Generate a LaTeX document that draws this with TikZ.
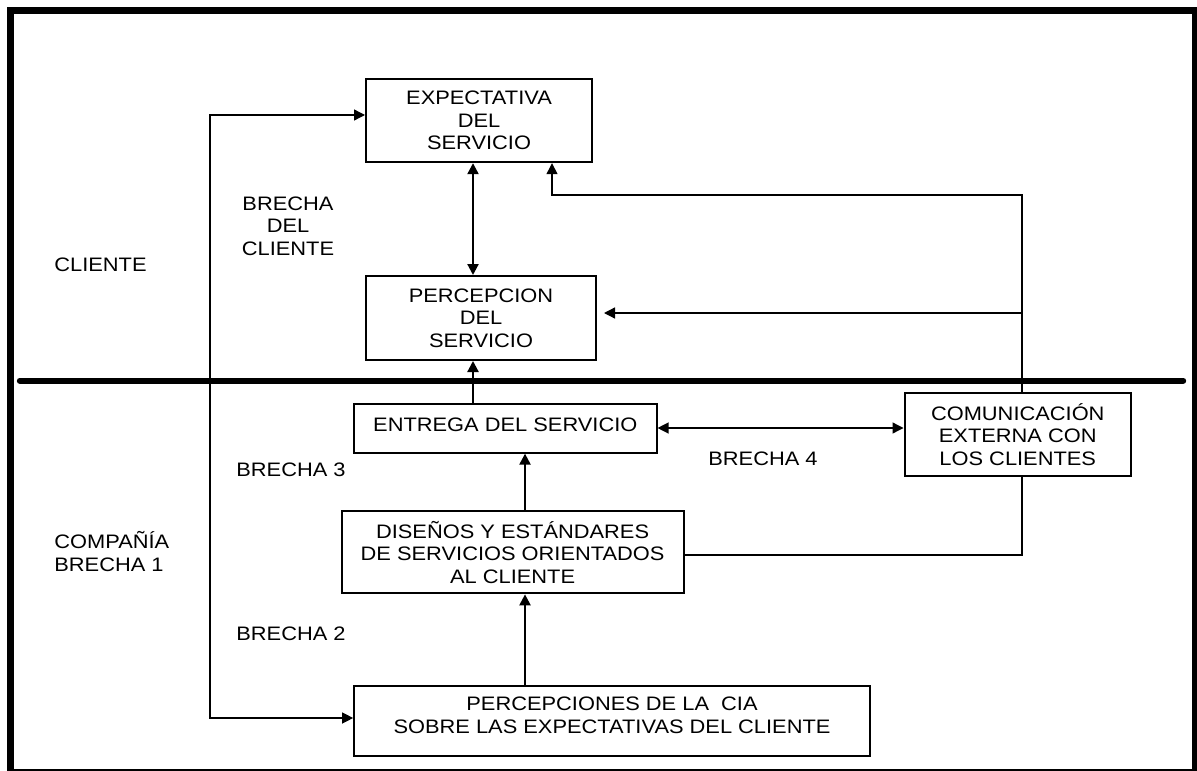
\documentclass[tikz,border=0pt]{standalone}
\usepackage{fontspec}
\setmainfont{Liberation Sans}[FakeStretch=1.12]
\usetikzlibrary{arrows.meta,backgrounds}
\newcommand\dtxt{\fontsize{9.75pt}{11.25pt}\selectfont}
\begin{document}
\begin{tikzpicture}[x=0.5pt,y=-0.5pt,
  box/.style={draw, line width=1pt, fill=white, align=center, inner sep=0pt, font=\dtxt},
  lbl/.style={align=center, inner sep=0pt, font=\dtxt},
  thick1/.style={line width=1.1pt},
  thin1/.style={line width=0.65pt},
  arr/.style={-{Triangle[length=5.5pt,width=5.5pt]}},
  darr/.style={{Triangle[length=5.5pt,width=5.5pt]}-{Triangle[length=5.5pt,width=5.5pt]}}]
\useasboundingbox (0,0) rectangle (1197,770);
\clip (0,0) rectangle (1197,770);

% caption (cut off at the top in the reference)
\node[anchor=base west, inner sep=0pt, font=\fontsize{14.5pt}{16pt}\selectfont] (cap) at (19,-11.5)
  {Figura 3. Modelo de brechas en la calidad de la prestación del servicio};

% boxes
\node[box, minimum width=113pt, minimum height=41.5pt] (exp) at (479,120.7)
  {EXPECTATIVA\\DEL\\SERVICIO};
\node[box, minimum width=115pt, minimum height=42pt] (per) at (481,318)
  {PERCEPCION\\DEL\\SERVICIO};
\node[box, minimum width=151.25pt, minimum height=24.35pt] (ent) at (505.3,428.3)
  {ENTREGA DEL SERVICIO\rule[-4pt]{0pt}{4pt}};
\node[box, minimum width=113.25pt, minimum height=41.5pt] (com) at (1017.75,434.5)
  {COMUNICACIÓN\\EXTERNA CON\\LOS CLIENTES};
\node[box, minimum width=171pt, minimum height=41.15pt] (dis) at (512.6,552.2)
  {DISEÑOS Y ESTÁNDARES\\DE SERVICIOS ORIENTADOS\\AL CLIENTE};
\node[box, minimum width=257.85pt, minimum height=35pt] (pcia) at (612,721)
  {PERCEPCIONES DE LA\ \ CIA\\SOBRE LAS EXPECTATIVAS DEL CLIENTE\rule[-6pt]{0pt}{6pt}};

% labels
\node[lbl, anchor=west] (cli) at (54,265) {CLIENTE};
\node[lbl] (bcli) at (288,226) {BRECHA\\DEL\\CLIENTE};
\node[lbl] (b3) at (291,470) {BRECHA 3};
\node[lbl] (b4) at (763,459) {BRECHA 4};
\node[lbl] (b2) at (291,634) {BRECHA 2};
\node[lbl, anchor=west, align=left] (comp) at (54,551.5) {COMPAÑÍA\\BRECHA 1};

% helper coordinates
\coordinate (cx1) at (473,0);
\coordinate (cx2) at (525,0);
\coordinate (cy) at (0,428);
\coordinate (loopT) at (210,115);
\coordinate (loopB) at (210,718);
\coordinate (fbR) at (1022,555);
\coordinate (fbT) at (1022,195);
\coordinate (fbL) at (552,195);
\coordinate (fbM) at (1022,313);
\coordinate (sepL) at (20,380.7);
\coordinate (sepR) at (1183,380.7);

\begin{pgfonlayer}{background}
\draw[thin1, darr] (exp.west |- loopT) -- (loopT) -- (loopB) -- (pcia.west |- loopB);
\draw[thin1, arr] (dis.east |- fbR) -- (fbR) -- (fbT) -- (fbL) -- (exp.south -| fbL);
\draw[thin1, arr, shorten >=3.5pt] (fbM) -- (per.east |- fbM);
\end{pgfonlayer}

\draw[thick1, darr] (exp.south -| cx1) -- (per.north -| cx1);
\draw[thick1, arr] (ent.north -| cx1) -- (per.south -| cx1);
\draw[thick1, arr] (dis.north -| cx2) -- (ent.south -| cx2);
\draw[thick1, arr] (pcia.north -| cx2) -- (dis.south -| cx2);
\draw[thin1, darr] (ent.east |- cy) -- (com.west |- cy);

% separator and frame
\draw[line width=3.2pt, line cap=round] (sepL) -- (sepR);
\draw[line width=3.6pt] (10.5,10.5) rectangle (1195.5,772.5);
\end{tikzpicture}
\end{document}
